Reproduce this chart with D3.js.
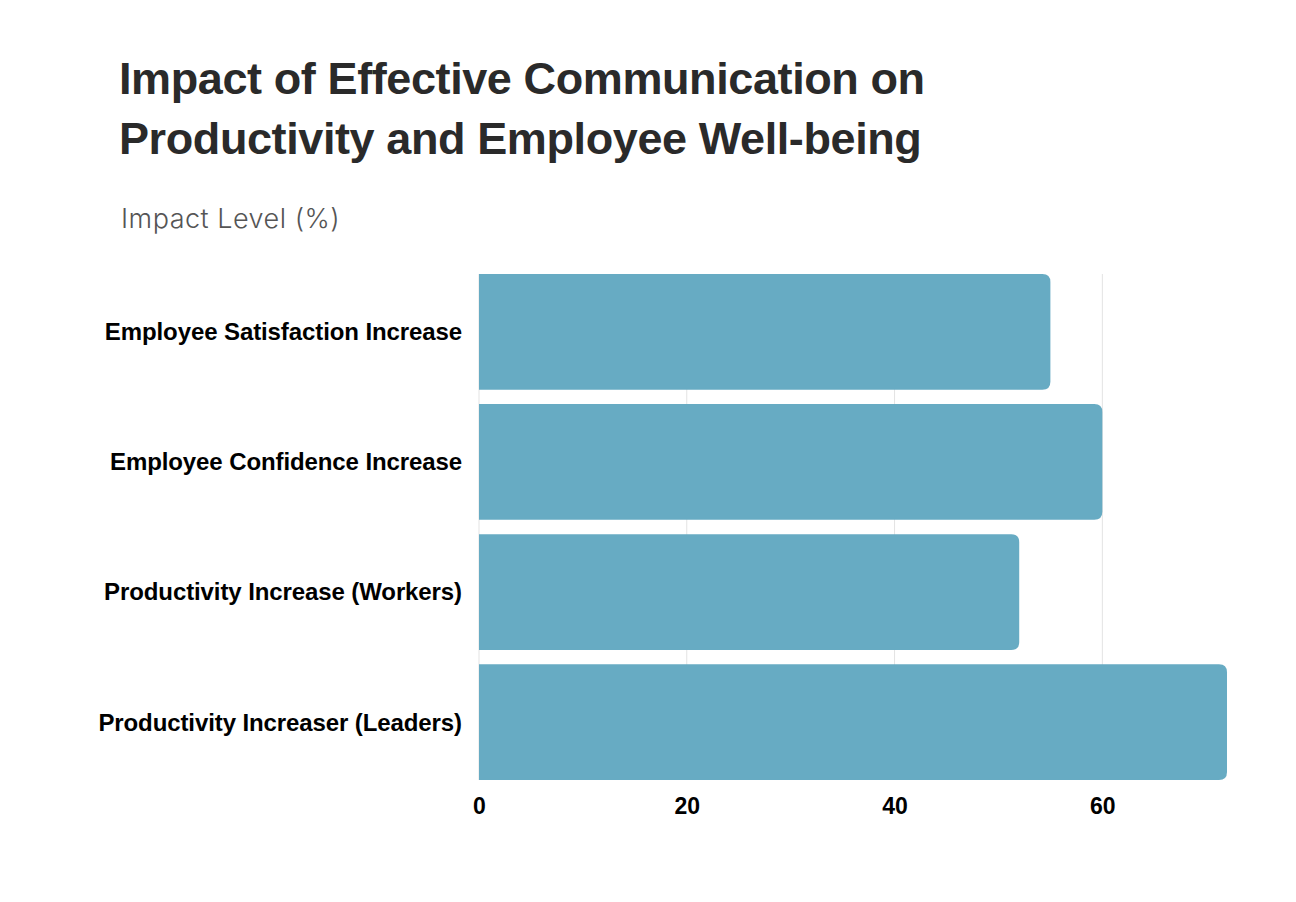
<!DOCTYPE html>
<html><head><meta charset="utf-8">
<script src="https://cdn.jsdelivr.net/npm/d3@7"></script>
<style>body{margin:0;background:#fff}svg{display:block}</style>
</head><body>
<svg id="c" width="1296" height="902"></svg>
<script>
const categories = ["Employee Satisfaction Increase","Employee Confidence Increase","Productivity Increase (Workers)","Productivity Increaser (Leaders)"];
const values = [55, 60, 52, 72];
const tickValues = [0, 20, 40, 60];
const titleLines = ["Impact of Effective Communication on","Productivity and Employee Well-being"];
const subtitle = "Impact Level (%)";

(function(){
const svg = d3.select("#c");
const pLeft = 479, pRight = 1227, pTop = 274, pBottom = 780;
const x = d3.scaleLinear().domain([0, 72]).range([pLeft, pRight]);
const y = d3.scaleBand().domain(categories).range([pTop, pBottom]).paddingInner(0.11).paddingOuter(0);

svg.append("rect").attr("width",1296).attr("height",902).attr("fill","#fff");

svg.selectAll("text.title").data(titleLines).join("text")
  .attr("x",119).attr("y",(d,i)=>94+i*60)
  .attr("font-family","Liberation Sans").attr("font-weight",700).attr("font-size",45)
  .attr("letter-spacing",-0.4).attr("fill","#2a2a2a").text(d=>d);

svg.append("text").attr("x",121).attr("y",228).attr("font-family","Inter")
  .attr("font-weight",300).attr("font-size",27).attr("letter-spacing",0.5).attr("fill","#555").text(subtitle);

// grid
svg.append("g").selectAll("line").data(tickValues).join("line")
  .attr("x1",d=>x(d)).attr("x2",d=>x(d)).attr("y1",pTop).attr("y2",pBottom)
  .attr("stroke","#e3e3e3").attr("stroke-width",1);

function rbar(x0,y0,w,h,r){
  r=Math.min(r,w);
  return `M${x0},${y0}H${x0+w-r}Q${x0+w},${y0} ${x0+w},${y0+r}V${y0+h-r}Q${x0+w},${y0+h} ${x0+w-r},${y0+h}H${x0}Z`;
}
svg.append("g").selectAll("path").data(values).join("path")
  .attr("d",(d,i)=>rbar(x(0),y(categories[i]),x(d)-x(0),y.bandwidth(),8))
  .attr("fill","#67abc3");

svg.append("g").selectAll("text").data(categories).join("text")
  .attr("x",462).attr("y",d=>y(d)+y.bandwidth()/2).attr("dy","0.35em")
  .attr("text-anchor","end").attr("font-family","Liberation Sans").attr("font-weight",700)
  .attr("font-size",24).attr("letter-spacing",-0.1).attr("fill","#000").text(d=>d);

const xAxis = d3.axisBottom(x).tickValues(tickValues).tickSize(0).tickPadding(0);
const ax = svg.append("g").attr("transform",`translate(0,${pBottom})`).call(xAxis);
ax.select(".domain").remove();
ax.selectAll("text").attr("y",26).attr("dy","0.35em").attr("font-family","Liberation Sans").attr("font-weight",700)
  .attr("font-size",23).attr("fill","#000");
})();
</script>
</body></html>
